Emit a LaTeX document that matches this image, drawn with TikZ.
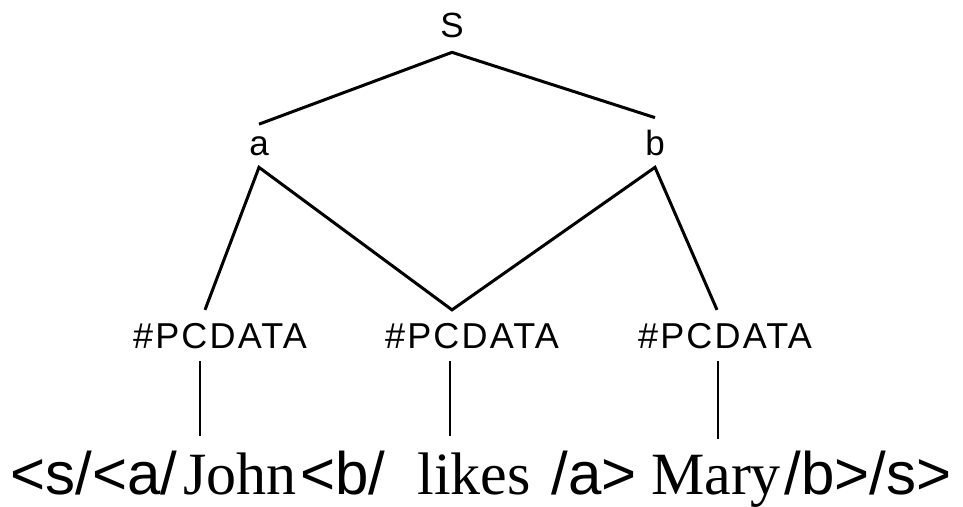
\documentclass[tikz,border=0pt]{standalone}
\usepackage{fontspec}
\setmainfont{Liberation Serif}
\setsansfont{Liberation Sans}
\usetikzlibrary{positioning}

\begin{document}
\begin{tikzpicture}[
  x=1pt, y=-1pt,
  lbl/.style={font=\sffamily\fontsize{35}{40}\selectfont, inner sep=12pt, outer sep=0pt, anchor=base},
  pc/.style={font=\sffamily\fontsize{36}{42}\selectfont\addfontfeature{LetterSpace=6}, inner sep=13pt, outer sep=0pt, anchor=base},
  tag/.style={font=\sffamily\fontsize{60}{70}\selectfont, inner sep=1pt, outer sep=0pt, anchor=base},
  word/.style={font=\rmfamily\fontsize{60}{70}\selectfont, inner sep=1pt, outer sep=0pt, anchor=base},
  edge/.style={line width=3pt},
  stem/.style={line width=2pt, shorten >=15pt}
]
\useasboundingbox (0,0) rectangle (963,506);

% tree labels
\node[lbl, inner sep=15pt] (s) at (452,37) {S};
\node[lbl] (a) at (259,155) {a};
\node[lbl] (b) at (655,155) {b};
\node[pc] (pc1) at (220,348) {\#PCDATA};
\node[pc] (pc2) at (472,348) {\#PCDATA};
\node[pc] (pc3) at (725,348) {\#PCDATA};

% the marked-up sentence
\node[tag] (t1) at (94,494) {<s/<a/};
\node[word] (john) at (240,494) {John};
\node[tag] (t2) at (343,494) {<b/};
\node[word] (likes) at (474,494) {likes};
\node[tag] (t3) at (594,494) {/a>};
\node[word] (mary) at (716,494) {Mary};
\node[tag] (t4) at (868,494) {/b>/s>};

\draw[edge] (a.north) -- (s.south) -- (b.north);
\draw[edge] ([xshift=-15pt]pc1.north) -- (a.south) -- ([xshift=-20pt]pc2.north)
  -- (b.south) -- ([xshift=-8pt]pc3.north);
\foreach \p/\w/\d in {pc1/john/-20, pc2/likes/-22, pc3/mary/-7}
  \draw[stem] ([xshift=\d pt]\p.south) -- ([xshift=\d pt]\p.south |- \w.north);
\end{tikzpicture}
\end{document}
